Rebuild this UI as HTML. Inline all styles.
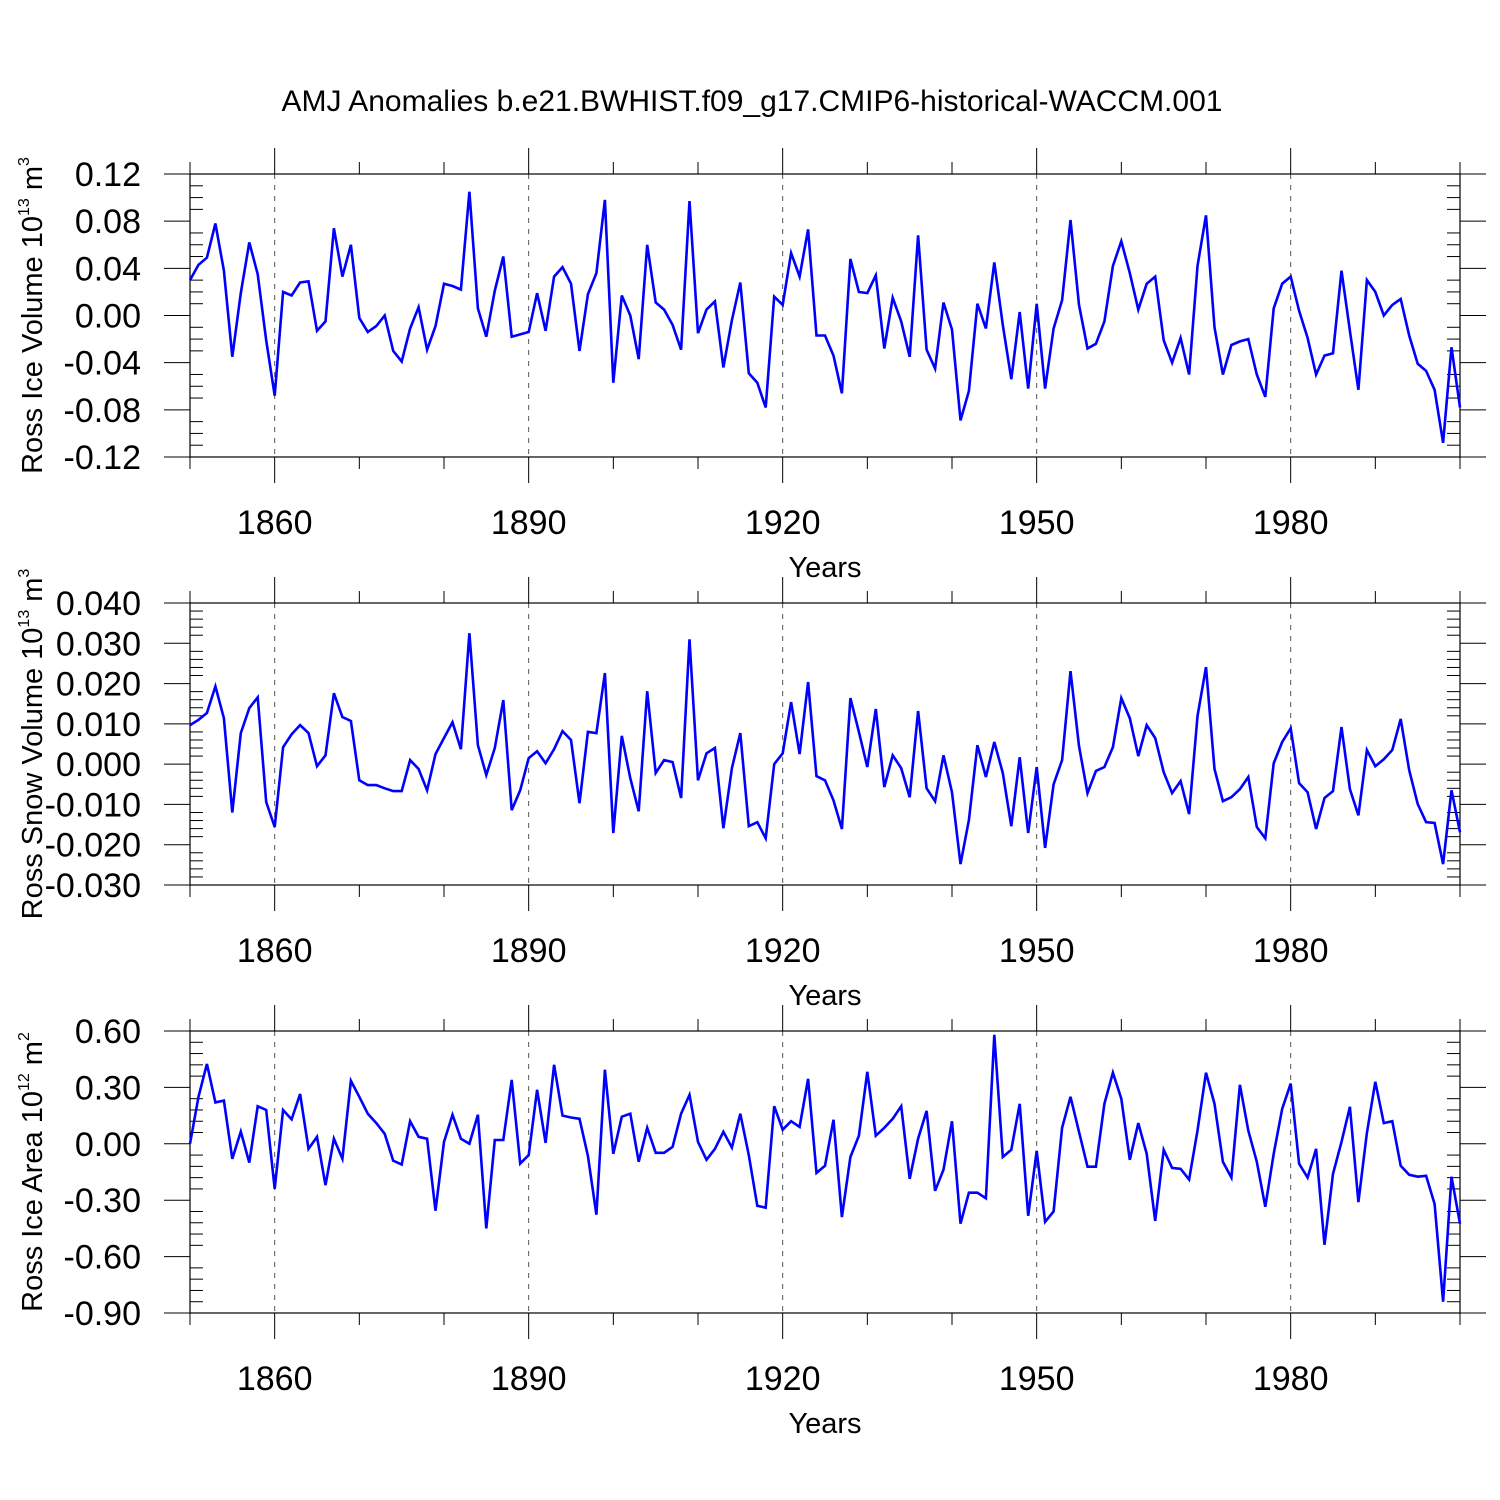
<!DOCTYPE html>
<html><head><meta charset="utf-8"><style>
html,body{margin:0;padding:0;background:#fff;}
svg{display:block;font-family:"Liberation Sans",sans-serif;}
</style></head><body>
<svg id="chart" width="1500" height="1500" viewBox="0 0 1500 1500" xmlns="http://www.w3.org/2000/svg">
<text x="752" y="111" font-size="30" text-anchor="middle">AMJ Anomalies b.e21.BWHIST.f09_g17.CMIP6-historical-WACCM.001</text>
</svg>
<script>
const startYear = 1850;
const xTickYears = [1860, 1890, 1920, 1950, 1980];
const iceVolume = [0.030,0.043,0.049,0.078,0.038,-0.035,0.019,0.062,0.035,-0.021,-0.068,0.020,0.017,0.028,0.029,-0.013,-0.005,0.074,0.033,0.060,-0.002,-0.014,-0.009,0.000,-0.030,-0.039,-0.011,0.007,-0.029,-0.009,0.027,0.025,0.022,0.105,0.006,-0.018,0.021,0.050,-0.018,-0.016,-0.014,0.019,-0.013,0.033,0.041,0.027,-0.030,0.018,0.036,0.098,-0.057,0.017,0.000,-0.037,0.060,0.011,0.005,-0.008,-0.029,0.097,-0.015,0.005,0.012,-0.044,-0.004,0.028,-0.049,-0.057,-0.078,0.016,0.009,0.053,0.033,0.073,-0.017,-0.017,-0.034,-0.066,0.048,0.020,0.019,0.034,-0.028,0.015,-0.005,-0.035,0.068,-0.029,-0.045,0.011,-0.012,-0.089,-0.064,0.010,-0.011,0.045,-0.008,-0.054,0.003,-0.062,0.010,-0.062,-0.011,0.013,0.081,0.009,-0.028,-0.024,-0.005,0.042,0.063,0.036,0.005,0.027,0.033,-0.021,-0.040,-0.019,-0.050,0.042,0.085,-0.010,-0.050,-0.025,-0.022,-0.020,-0.050,-0.069,0.006,0.027,0.033,0.004,-0.019,-0.050,-0.034,-0.032,0.038,-0.013,-0.063,0.030,0.020,0.000,0.009,0.014,-0.017,-0.041,-0.047,-0.063,-0.108,-0.027,-0.078];
const snowVolume = [0.0097,0.011,0.0127,0.0193,0.0114,-0.012,0.0077,0.0139,0.0166,-0.0094,-0.0156,0.0042,0.0074,0.0097,0.0077,-0.0005,0.0022,0.0176,0.0117,0.0107,-0.004,-0.0052,-0.0052,-0.006,-0.0067,-0.0067,0.001,-0.0012,-0.0065,0.0025,0.0065,0.0104,0.0037,0.0325,0.0047,-0.0027,0.004,0.0159,-0.0114,-0.0065,0.0015,0.0032,0.0002,0.0037,0.0082,0.006,-0.0097,0.008,0.0077,0.0226,-0.0171,0.007,-0.0035,-0.0117,0.0181,-0.0022,0.001,0.0005,-0.0084,0.031,-0.004,0.0027,0.004,-0.0159,-0.001,0.0077,-0.0154,-0.0144,-0.0184,0,0.0027,0.0154,0.0025,0.0204,-0.003,-0.004,-0.009,-0.0161,0.0164,0.008,-0.0007,0.0137,-0.0057,0.0022,-0.001,-0.0082,0.0132,-0.006,-0.0092,0.0022,-0.007,-0.0248,-0.0139,0.0047,-0.0032,0.0055,-0.0022,-0.0154,0.0017,-0.0171,-0.0007,-0.0208,-0.005,0.001,0.0231,0.0045,-0.0072,-0.0017,-0.0007,0.0042,0.0164,0.0114,0.002,0.0097,0.0065,-0.002,-0.0072,-0.0042,-0.0124,0.0119,0.0241,-0.0012,-0.0092,-0.0082,-0.0062,-0.0032,-0.0156,-0.0184,0.0002,0.0055,0.0089,-0.0047,-0.007,-0.0161,-0.0084,-0.0067,0.0092,-0.0062,-0.0127,0.0035,-0.0005,0.0012,0.0035,0.0112,-0.0015,-0.0099,-0.0144,-0.0146,-0.0248,-0.0065,-0.0169];
const iceArea = [0,0.25,0.425,0.22,0.23,-0.08,0.065,-0.10,0.20,0.18,-0.24,0.18,0.13,0.265,-0.027,0.037,-0.22,0.027,-0.08,0.335,0.25,0.16,0.11,0.053,-0.09,-0.11,0.12,0.037,0.027,-0.356,0.01,0.155,0.027,0,0.155,-0.45,0.02,0.02,0.34,-0.105,-0.06,0.287,0.005,0.42,0.15,0.14,0.133,-0.064,-0.377,0.394,-0.053,0.144,0.16,-0.096,0.085,-0.048,-0.048,-0.016,0.16,0.26,0.01,-0.085,-0.027,0.064,-0.02,0.16,-0.06,-0.33,-0.34,0.2,0.075,0.12,0.09,0.345,-0.155,-0.117,0.128,-0.39,-0.07,0.043,0.383,0.043,0.085,0.133,0.2,-0.186,0.027,0.175,-0.25,-0.138,0.12,-0.425,-0.26,-0.26,-0.29,0.58,-0.07,-0.032,0.213,-0.383,-0.037,-0.415,-0.36,0.085,0.25,0.064,-0.122,-0.122,0.213,0.378,0.24,-0.085,0.11,-0.053,-0.41,-0.032,-0.128,-0.133,-0.19,0.07,0.378,0.213,-0.096,-0.18,0.314,0.07,-0.096,-0.335,-0.053,0.186,0.32,-0.106,-0.18,-0.027,-0.537,-0.16,0.01,0.197,-0.31,0.058,0.33,0.11,0.12,-0.117,-0.165,-0.175,-0.17,-0.32,-0.84,-0.175,-0.425];
const ticksIce = ["0.12","0.08","0.04","0.00","-0.04","-0.08","-0.12"];
const ticksSnow = ["0.040","0.030","0.020","0.010","0.000","-0.010","-0.020","-0.030"];
const ticksArea = ["0.60","0.30","0.00","-0.30","-0.60","-0.90"];

const NS = "http://www.w3.org/2000/svg";
const svg = document.getElementById('chart');
const X0 = 190, X1 = 1460, Y0 = 1850, Y1 = 2000;
function xs(yr){ return X0 + (yr - Y0) / (Y1 - Y0) * (X1 - X0); }
function mk(tag, attrs, parent){ const e = document.createElementNS(NS, tag); for (const k in attrs) e.setAttribute(k, attrs[k]); (parent||svg).appendChild(e); return e; }

function panel(name, top, bottom, ticks, minorPer, values, titleMain, sup, unit, unitSup){
  const g = mk('g', {});
  
  
  const vmax = parseFloat(ticks[0]), vmin = parseFloat(ticks[ticks.length-1]);
  const ys = v => top + (vmax - v) / (vmax - vmin) * (bottom - top);
  xTickYears.forEach(yr => {
    const l = mk('line', {x1: xs(yr), x2: xs(yr), y1: top, y2: bottom, stroke: '#555', 'stroke-width': 1, 'stroke-dasharray': '5,6'}, g);
    
    
  });
  for (let yr = 1850; yr <= 2000; yr += 10) {
    const major = xTickYears.includes(yr);
    const len = major ? 26 : 12;
    mk('line', {x1: xs(yr), x2: xs(yr), y1: top - len, y2: top, stroke: '#000', 'stroke-width': 1}, g);
    mk('line', {x1: xs(yr), x2: xs(yr), y1: bottom, y2: bottom + len, stroke: '#000', 'stroke-width': 1}, g);
  }
  xTickYears.forEach(yr => {
    const t = mk('text', {x: xs(yr), y: bottom + 77, 'font-size': 34, 'text-anchor': 'middle'}, g);
    t.textContent = yr;
    
    
  });
  const xt = mk('text', {x: 825, y: bottom + 120, 'font-size': 29, 'text-anchor': 'middle'}, g);
  xt.textContent = 'Years';
  
  
  const step = (vmax - vmin) / (ticks.length - 1);
  ticks.forEach((lab, i) => {
    const v = vmax - i * step, y = ys(v);
    mk('line', {x1: X0 - 26, x2: X0, y1: y, y2: y, stroke: '#000', 'stroke-width': 1}, g);
    mk('line', {x1: X1, x2: X1 + 26, y1: y, y2: y, stroke: '#000', 'stroke-width': 1}, g);
    const t = mk('text', {x: 141, y: y + 12, 'font-size': 34, 'text-anchor': 'end'}, g);
    t.textContent = lab;
    
    
    if (i < ticks.length - 1) {
      for (let m = 1; m <= minorPer; m++) {
        const ym = ys(v - step * m / (minorPer + 1));
        mk('line', {x1: X0, x2: X0 + 13, y1: ym, y2: ym, stroke: '#000', 'stroke-width': 1}, g);
        mk('line', {x1: X1 - 13, x2: X1, y1: ym, y2: ym, stroke: '#000', 'stroke-width': 1}, g);
      }
    }
  });
  const fr = mk('rect', {x: X0, y: top, width: X1 - X0, height: bottom - top, fill: 'none', stroke: '#000', 'stroke-width': 1.2}, g);
  
  
  const pts = values.map((v, i) => xs(startYear + i).toFixed(1) + ',' + ys(v).toFixed(1)).join(' ');
  const pl = mk('polyline', {points: pts, fill: 'none', stroke: '#0000ff', 'stroke-width': 2.6, 'stroke-linejoin': 'miter'}, g);
  
  
  const cy = (top + bottom) / 2;
  const yt = mk('text', {x: 0, y: 0, 'font-size': 29, 'text-anchor': 'middle', transform: `translate(42,${cy}) rotate(-90)`}, g);
  
  
  const a = mk('tspan', {}, yt); a.textContent = titleMain;
  const b = mk('tspan', {dy: -13, 'font-size': 16}, yt); b.textContent = sup;
  const c = mk('tspan', {dy: 13}, yt); c.textContent = '\u00a0' + unit;
  const d = mk('tspan', {dy: -13, 'font-size': 16}, yt); d.textContent = unitSup;
}
panel('ross-ice-volume', 174, 457, ticksIce, 3, iceVolume, 'Ross Ice Volume 10', '13', 'm', '3');
panel('ross-snow-volume', 603, 885, ticksSnow, 4, snowVolume, 'Ross Snow Volume 10', '13', 'm', '3');
panel('ross-ice-area', 1031, 1313, ticksArea, 4, iceArea, 'Ross Ice Area 10', '12', 'm', '2');
</script>
</body></html>
